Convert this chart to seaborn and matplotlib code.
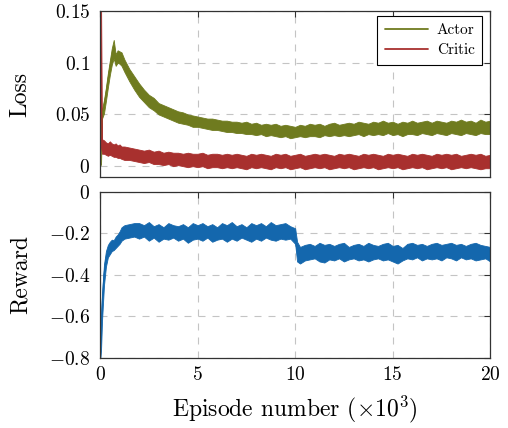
#importing libraries
import numpy as np
import pandas as pd
import seaborn as sns
import matplotlib
matplotlib.use('Agg')
import matplotlib.pyplot as plt
from matplotlib.ticker import FuncFormatter

ep_early = [0, 0.05, 0.1, 0.2, 0.3, 0.4, 0.5, 0.6, 0.7, 0.8, 0.9, 1.0, 1.1, 1.25, 1.5, 1.75]
ep_loss = ep_early + list(np.arange(2.0, 20.01, 0.25))
ep_reward = ep_early + list(np.arange(2.0, 10.01, 0.25)) + [10.1] + list(np.arange(10.25, 20.01, 0.25))

#actor loss - upper / lower edge of the band
actor_hi = [0.050, 0.056, 0.055, 0.064, 0.076, 0.090, 0.102, 0.114, 0.122, 0.108, 0.112, 0.111, 0.110, 0.103, 0.094, 0.087,
            0.080, 0.074, 0.069, 0.066, 0.061, 0.059, 0.057, 0.055, 0.053, 0.052, 0.050, 0.049,
            0.048, 0.047, 0.046, 0.046, 0.045, 0.044, 0.044, 0.043, 0.043, 0.042, 0.043, 0.041,
            0.042, 0.040, 0.041, 0.040, 0.041, 0.039, 0.040, 0.039, 0.038, 0.040, 0.039, 0.041,
            0.040, 0.041, 0.039, 0.041, 0.042, 0.040, 0.041, 0.042, 0.041, 0.043, 0.042, 0.041,
            0.043, 0.042, 0.044, 0.042, 0.043, 0.041, 0.043, 0.042, 0.044, 0.042, 0.043, 0.044,
            0.042, 0.044, 0.043, 0.042, 0.044, 0.043, 0.045, 0.043, 0.044, 0.042, 0.045, 0.043,
            0.044]
actor_lo = [0.000, 0.002, 0.046, 0.051, 0.063, 0.076, 0.088, 0.098, 0.104, 0.097, 0.100, 0.099, 0.097, 0.091, 0.082, 0.074,
            0.067, 0.062, 0.057, 0.054, 0.050, 0.048, 0.046, 0.044, 0.042, 0.041, 0.040, 0.038,
            0.038, 0.037, 0.036, 0.035, 0.035, 0.034, 0.033, 0.033, 0.032, 0.032, 0.031, 0.031,
            0.030, 0.031, 0.029, 0.030, 0.029, 0.028, 0.029, 0.027, 0.028, 0.029, 0.028, 0.029,
            0.029, 0.028, 0.030, 0.029, 0.030, 0.029, 0.030, 0.029, 0.030, 0.031, 0.029, 0.031,
            0.030, 0.031, 0.030, 0.032, 0.030, 0.031, 0.029, 0.031, 0.031, 0.030, 0.032, 0.031,
            0.030, 0.032, 0.031, 0.030, 0.032, 0.031, 0.030, 0.032, 0.031, 0.030, 0.032, 0.031,
            0.031]

#critic loss
critic_hi = [0.160, 0.160, 0.026, 0.025, 0.023, 0.022, 0.024, 0.022, 0.021, 0.022, 0.020, 0.021, 0.019, 0.019, 0.018, 0.017,
             0.016, 0.015, 0.016, 0.014, 0.015, 0.013, 0.014, 0.013, 0.013, 0.012, 0.013, 0.012,
             0.012, 0.013, 0.011, 0.012, 0.012, 0.011, 0.012, 0.011, 0.012, 0.011, 0.010, 0.012,
             0.011, 0.012, 0.011, 0.010, 0.012, 0.011, 0.012, 0.010, 0.011, 0.012, 0.010, 0.011,
             0.012, 0.011, 0.012, 0.011, 0.010, 0.012, 0.011, 0.012, 0.011, 0.010, 0.012, 0.011,
             0.012, 0.011, 0.010, 0.012, 0.011, 0.012, 0.011, 0.010, 0.012, 0.011, 0.012, 0.011,
             0.010, 0.012, 0.011, 0.012, 0.011, 0.012, 0.010, 0.011, 0.012, 0.011, 0.012, 0.010,
             0.011]
critic_lo = [0.020, 0.018, 0.012, 0.012, 0.011, 0.010, 0.011, 0.010, 0.009, 0.009, 0.008, 0.008, 0.007, 0.006, 0.006, 0.005,
             0.004, 0.003, 0.004, 0.002, 0.002, 0.001, 0.002, 0.000, 0.001, 0.000, -0.001, 0.000,
             -0.001, 0.000, -0.002, -0.001, -0.001, -0.002, -0.001, -0.002, -0.001, -0.002, -0.003, -0.001,
             -0.002, -0.001, -0.002, -0.003, -0.001, -0.002, -0.001, -0.003, -0.002, -0.001, -0.003, -0.002,
             -0.001, -0.002, -0.001, -0.003, -0.002, -0.001, -0.002, -0.001, -0.003, -0.002, -0.001, -0.002,
             -0.001, -0.003, -0.002, -0.001, -0.002, -0.001, -0.003, -0.002, -0.001, -0.002, -0.001, -0.003,
             -0.002, -0.001, -0.002, -0.001, -0.003, -0.002, -0.001, -0.002, -0.001, -0.002, -0.003, -0.002,
             -0.002]

#reward
reward_hi = [-0.740, -0.600, -0.490, -0.350, -0.285, -0.255, -0.240, -0.230, -0.232, -0.215, -0.205, -0.190, -0.170, -0.160, -0.155, -0.150,
             -0.150, -0.160, -0.145, -0.165, -0.155, -0.170, -0.150, -0.160, -0.165, -0.155, -0.170, -0.150,
             -0.160, -0.150, -0.165, -0.155, -0.170, -0.150, -0.160, -0.145, -0.165, -0.155, -0.170, -0.150,
             -0.160, -0.150, -0.165, -0.145, -0.160, -0.155, -0.150, -0.165, -0.175,
             -0.240,
             -0.265, -0.255, -0.250,
             -0.260, -0.245, -0.255, -0.250, -0.260, -0.250, -0.245, -0.265, -0.255, -0.250, -0.260, -0.245,
             -0.255, -0.260, -0.250, -0.245, -0.260, -0.255, -0.270, -0.250, -0.245, -0.255, -0.250, -0.260,
             -0.250, -0.245, -0.255, -0.250, -0.245, -0.255, -0.250, -0.260, -0.250, -0.245, -0.255, -0.260,
             -0.265]
reward_lo = [-0.820, -0.760, -0.620, -0.450, -0.360, -0.315, -0.300, -0.285, -0.280, -0.270, -0.260, -0.250, -0.235, -0.225, -0.220, -0.215,
             -0.225, -0.215, -0.235, -0.220, -0.240, -0.225, -0.230, -0.220, -0.235, -0.225, -0.245, -0.230,
             -0.225, -0.235, -0.220, -0.240, -0.230, -0.225, -0.240, -0.225, -0.235, -0.220, -0.230, -0.240,
             -0.225, -0.235, -0.220, -0.230, -0.235, -0.225, -0.230, -0.225, -0.250,
             -0.335,
             -0.345, -0.330, -0.325,
             -0.320, -0.335, -0.340, -0.325, -0.330, -0.320, -0.335, -0.325, -0.320, -0.330, -0.325, -0.335,
             -0.325, -0.320, -0.330, -0.325, -0.335, -0.345, -0.330, -0.320, -0.325, -0.315, -0.330, -0.320,
             -0.325, -0.320, -0.330, -0.315, -0.320, -0.330, -0.315, -0.325, -0.320, -0.330, -0.325, -0.320,
             -0.335]

assert len(actor_hi) == len(actor_lo) == len(critic_hi) == len(critic_lo) == len(ep_loss)
assert len(reward_hi) == len(reward_lo) == len(ep_reward)

#long form tables (hi and lo at the same episode -> min/max band)
loss_df = pd.DataFrame({
    'episode': ep_loss * 4,
    'loss': actor_hi + actor_lo + critic_hi + critic_lo,
    'series': ['Actor'] * (2 * len(ep_loss)) + ['Critic'] * (2 * len(ep_loss))})
reward_df = pd.DataFrame({'episode': ep_reward * 2, 'reward': reward_hi + reward_lo})

#style
sns.set_theme(style='white')
plt.rcParams['font.family'] = 'serif'
plt.rcParams['font.serif'] = ['cmr10']
plt.rcParams['mathtext.fontset'] = 'cm'
plt.rcParams['axes.formatter.use_mathtext'] = True
plt.rcParams['text.color'] = 'black'
plt.rcParams['axes.labelcolor'] = 'black'
plt.rcParams['xtick.color'] = 'black'
plt.rcParams['ytick.color'] = 'black'

olive = '#6f7b1f'
red = '#a8302e'
blue = '#1467ad'
grid_kw = dict(color='#c4c4c4', linewidth=0.8, linestyle=(0, (6.3, 6.3)))

fig = plt.figure(figsize=(5.08, 4.28), dpi=100)
ax1 = fig.add_axes([0.197, 0.5864, 0.768, 0.3879])
ax2 = fig.add_axes([0.197, 0.1636, 0.768, 0.3879])

sns.lineplot(data=loss_df, x='episode', y='loss', hue='series', hue_order=['Actor', 'Critic'],
             palette=[olive, red], estimator='mean', errorbar=('pi', 100),
             err_kws={'alpha': 1, 'linewidth': 0.6}, linewidth=0.8, ax=ax1)
sns.lineplot(data=reward_df, x='episode', y='reward', color=blue, estimator='mean',
             errorbar=('pi', 100), err_kws={'alpha': 1, 'linewidth': 0.6}, linewidth=0.8, ax=ax2)

fmt = FuncFormatter(lambda v, p: '$%g$' % round(v, 3))
for ax in (ax1, ax2):
    ax.set_xlim(0, 20)
    ax.set_xticks([0, 5, 10, 15, 20])
    ax.grid(True, **grid_kw)
    ax.set_axisbelow(True)
    ax.tick_params(direction='in', length=4, width=0.8, color='#333333', labelsize=14,
                   labelcolor='black', top=True, right=True, pad=7)
    ax.yaxis.set_major_formatter(fmt)
    ax.xaxis.set_major_formatter(fmt)
    for s in ax.spines.values():
        s.set_color('#333333')
        s.set_linewidth(0.9)

ax1.set_ylim(-0.0105, 0.15)
ax1.set_yticks([0, 0.05, 0.1, 0.15])
ax1.tick_params(labelbottom=False)
ax1.set_xlabel('')
ax1.set_ylabel('Loss', fontsize=17)
ax1.yaxis.set_label_coords(-0.175, 0.5)

ax2.set_ylim(-0.8, 0)
ax2.set_yticks([0, -0.2, -0.4, -0.6, -0.8])
ax2.tick_params(axis='x', pad=6)
ax2.set_ylabel('Reward', fontsize=17)
ax2.yaxis.set_label_coords(-0.175, 0.5)
ax2.set_xlabel(r'Episode number ($\times 10^3$)', fontsize=17, labelpad=7)

sns.move_legend(ax1, 'upper right', bbox_to_anchor=(0.98, 0.97), title=None, frameon=True,
                fancybox=False, framealpha=1, edgecolor='black', fontsize=11,
                handlelength=2.8, borderaxespad=0, borderpad=0.5, labelspacing=0.4,
                handletextpad=0.6)
leg = ax1.get_legend()
leg.get_frame().set_linewidth(0.8)
for h in leg.legend_handles:
    h.set_linewidth(1.3)

plt.savefig('out.png', dpi=100)
